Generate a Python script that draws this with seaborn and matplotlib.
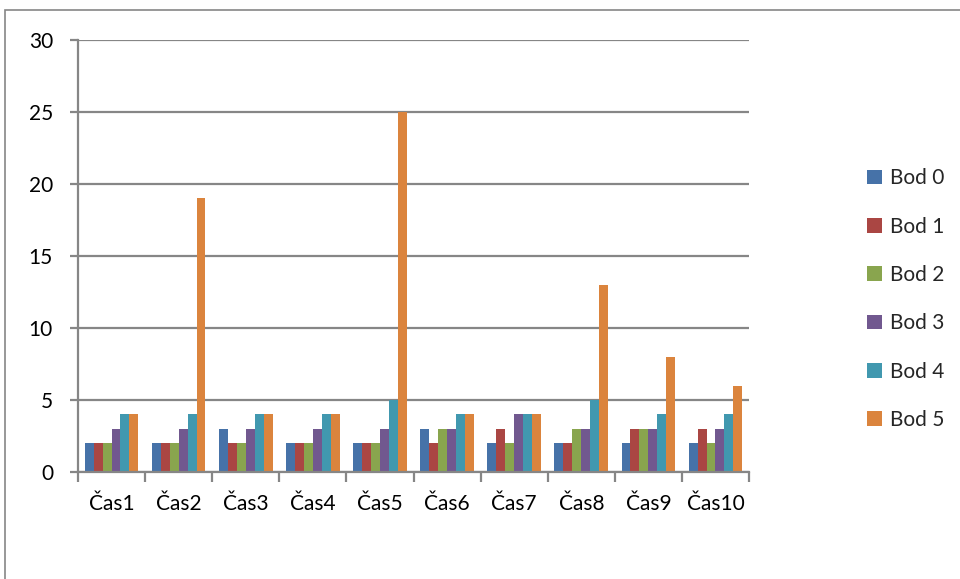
import matplotlib
matplotlib.use("Agg")
import matplotlib.pyplot as plt
from matplotlib.patches import Rectangle
import seaborn as sns
import pandas as pd
import numpy as np

categories = ["Čas1", "Čas2", "Čas3", "Čas4", "Čas5", "Čas6", "Čas7", "Čas8", "Čas9", "Čas10"]
series_names = ["Bod 0", "Bod 1", "Bod 2", "Bod 3", "Bod 4", "Bod 5"]
bod0 = [2, 2, 3, 2, 2, 3, 2, 2, 2, 2]
bod1 = [2, 2, 2, 2, 2, 2, 3, 2, 3, 3]
bod2 = [2, 2, 2, 2, 2, 3, 2, 3, 3, 2]
bod3 = [3, 3, 3, 3, 3, 3, 4, 3, 3, 3]
bod4 = [4, 4, 4, 4, 5, 4, 4, 5, 4, 4]
bod5 = [4, 19, 4, 4, 25, 4, 4, 13, 8, 6]
colors = ["#4672A8", "#AA4643", "#89A54E", "#71588F", "#4198AF", "#DB843D"]

series_values = [bod0, bod1, bod2, bod3, bod4, bod5]
rows = []
for name, vals in zip(series_names, series_values):
    for cat, v in zip(categories, vals):
        rows.append({"cas": cat, "bod": name, "value": v})
df = pd.DataFrame(rows)

sns.set_theme(style="white")
plt.rcParams["font.family"] = ["Lato", "DejaVu Sans"]

fig = plt.figure(figsize=(9.6, 5.79), dpi=100)
ax = fig.add_axes([78 / 960, 1 - 472 / 579, (749 - 78) / 960, (472 - 40) / 579])

sns.barplot(data=df, x="cas", y="value", hue="bod", order=categories,
            hue_order=series_names, palette=colors, width=0.8, gap=0,
            saturation=1, ax=ax, legend=True, edgecolor="none")

grid_c = "#868686"
fs = 15
ax.set_ylim(0, 30)
ax.set_xlim(-0.5, len(categories) - 0.5)
ax.set_yticks(np.arange(0, 31, 5))
ax.yaxis.grid(True, color=grid_c, linewidth=1.6)
ax.set_axisbelow(True)
ax.set_xlabel("")
ax.set_ylabel("")

for side in ["top", "right"]:
    ax.spines[side].set_visible(False)
for side in ["left", "bottom"]:
    ax.spines[side].set_color(grid_c)
    ax.spines[side].set_linewidth(1.6)

ax.tick_params(axis="y", which="major", length=6, width=1.6, color=grid_c,
               labelsize=fs, labelcolor="black", pad=12, left=True)
ax.tick_params(axis="x", which="major", length=0, labelsize=fs,
               labelcolor="black", pad=16)
ax.set_xticks(np.arange(-0.5, len(categories), 1.0), minor=True)
ax.tick_params(axis="x", which="minor", length=7, width=1.6, color=grid_c,
               bottom=True, direction="out")

handles, labels = ax.get_legend_handles_labels()
ax.get_legend().remove()
fig.legend(handles, labels, loc="upper left", bbox_to_anchor=(859 / 960, 1 - 160 / 579),
           frameon=False, fontsize=fs, handlelength=0.72, handleheight=0.72,
           handletextpad=0.35, labelspacing=1.36, borderaxespad=0)

fig.patches.append(Rectangle((5 / 960, -0.1), 1.2, 1.1 - 10 / 579,
                             transform=fig.transFigure, fill=False,
                             edgecolor=grid_c, linewidth=1.2))

fig.savefig("out.png", dpi=100)
